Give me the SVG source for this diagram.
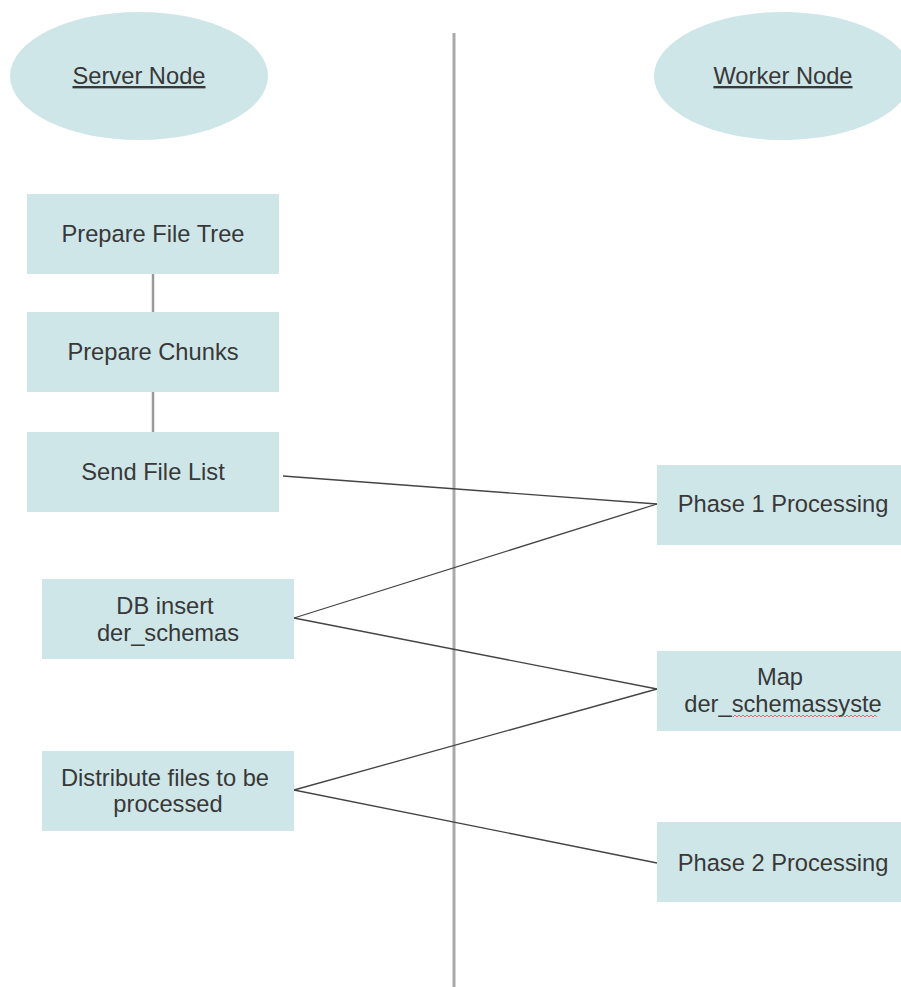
<svg xmlns="http://www.w3.org/2000/svg" width="901" height="987" viewBox="0 0 901 987">
<style>
.shape{fill:#cfe6e8}
.lbl{font-family:"Liberation Sans",Arial,sans-serif;font-size:23.7px;fill:#383838;text-anchor:middle}
.ul{text-decoration:underline}
.conn{stroke:#444;stroke-width:1.3;fill:none}
.vconn{stroke:#999;stroke-width:2.5;fill:none}
</style>
<rect width="901" height="987" fill="#fff"/>
<line x1="454" y1="33" x2="454" y2="987" stroke="#aaa" stroke-width="3"/>
<g id="connectors">
<line class="vconn" x1="153" y1="274" x2="153" y2="312"/>
<line class="vconn" x1="153" y1="392" x2="153" y2="432"/>
<line class="conn" x1="283" y1="476" x2="657" y2="504"/>
<line class="conn" x1="294" y1="618" x2="657" y2="504"/>
<line class="conn" x1="294" y1="618" x2="657" y2="689"/>
<line class="conn" x1="294" y1="790" x2="657" y2="689"/>
<line class="conn" x1="294" y1="790" x2="657" y2="863"/>
</g>
<g id="server-node">
<ellipse class="shape" cx="139" cy="76" rx="129" ry="64"/>
<text class="lbl ul" x="139" y="84">Server Node</text>
</g>
<g id="worker-node">
<ellipse class="shape" cx="783" cy="76" rx="129" ry="64"/>
<text class="lbl ul" x="783" y="84">Worker Node</text>
</g>
<g id="prepare-file-tree">
<rect class="shape" x="27" y="194" width="252" height="80"/>
<text class="lbl" x="153" y="242">Prepare File Tree</text>
</g>
<g id="prepare-chunks">
<rect class="shape" x="27" y="312" width="252" height="80"/>
<text class="lbl" x="153" y="360">Prepare Chunks</text>
</g>
<g id="send-file-list">
<rect class="shape" x="27" y="432" width="252" height="80"/>
<text class="lbl" x="153" y="480">Send File List</text>
</g>
<g id="db-insert">
<rect class="shape" x="42" y="579" width="252" height="80"/>
<text class="lbl" x="165" y="614">DB insert</text>
<text class="lbl" x="168" y="641">der_schemas</text>
</g>
<g id="distribute">
<rect class="shape" x="42" y="751" width="252" height="80"/>
<text class="lbl" x="165" y="786">Distribute files to be</text>
<text class="lbl" x="168" y="812">processed</text>
</g>
<g id="phase1">
<rect class="shape" x="657" y="465" width="260" height="80"/>
<text class="lbl" x="783" y="512">Phase 1 Processing</text>
</g>
<g id="map">
<rect class="shape" x="657" y="651" width="260" height="80"/>
<text class="lbl" x="780" y="685">Map</text>
<text class="lbl" x="783" y="712">der_schemassyste</text>
<path d="M733 717 l2 -2 l2 2 l2 -2 l2 2 l2 -2 l2 2 l2 -2 l2 2 l2 -2 l2 2 l2 -2 l2 2 l2 -2 l2 2 l2 -2 l2 2 l2 -2 l2 2 l2 -2 l2 2 l2 -2 l2 2 l2 -2 l2 2 l2 -2 l2 2 l2 -2 l2 2 l2 -2 l2 2 l2 -2 l2 2 l2 -2 l2 2 l2 -2 l2 2 l2 -2 l2 2 l2 -2 l2 2 l2 -2 l2 2 l2 -2 l2 2 l2 -2 l2 2 l2 -2 l2 2 l2 -2 l2 2 l2 -2 l2 2 l2 -2 l2 2 l2 -2 l2 2 l2 -2 l2 2 l2 -2 l2 2 l2 -2 l2 2 l2 -2 l2 2 l2 -2 l2 2 l2 -2 l2 2 l2 -2 l2 2 l2 -2 l2 2" fill="none" stroke="#e05050" stroke-width="0.8"/>
</g>
<g id="phase2">
<rect class="shape" x="657" y="822" width="260" height="80"/>
<text class="lbl" x="783" y="871">Phase 2 Processing</text>
</g>
</svg>
